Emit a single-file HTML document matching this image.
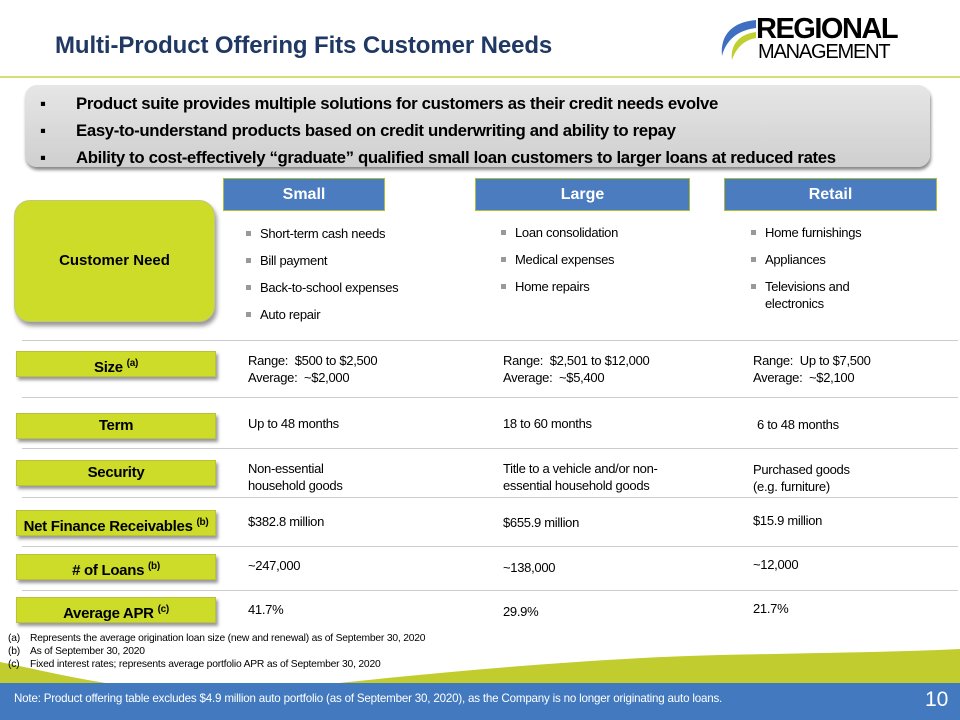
<!DOCTYPE html>
<html><head><meta charset="utf-8"><style>
body{margin:0;width:960px;height:720px;position:relative;overflow:hidden;background:#fff;font-family:"Liberation Sans",sans-serif;color:#000}
.a{position:absolute}
.t{font-size:13px;line-height:17px;letter-spacing:-0.3px}
.lbl{position:absolute;left:16px;width:198px;height:24px;background:#cddc29;border:1px solid #b9c23a;box-shadow:2px 3px 3px #999;font-weight:bold;font-size:15px;text-align:center;line-height:24px;letter-spacing:-0.3px}
.lbl sup{font-size:10px}
.hdr{position:absolute;top:178px;height:31px;background:#4a7cbf;border:1px solid #a9bf3a;color:#fff;font-weight:bold;font-size:16px;text-align:center;line-height:31px}
.hl{position:absolute;left:22px;width:936px;height:1px;background:#ccc}
ul{margin:0;padding:0;list-style:none}
li{position:relative;padding-left:16px;margin-bottom:10px}
li:before{content:"";position:absolute;left:2px;top:6px;width:5px;height:5px;background:#999}
</style></head><body>
<div class="a" style="left:55px;top:32px;font-size:24px;font-weight:bold;color:#1f3864;letter-spacing:-0.1px">Multi-Product Offering Fits Customer Needs</div>
<div class="a" style="left:718px;top:14px;width:200px;height:48px">
<svg width="40" height="46" class="a" style="left:0;top:2px"><path d="M38 4 C15 6 2 18 4 40 C8 24 20 14 38 12Z" fill="#3e6fc0"/><path d="M38 16 C22 18 12 28 14 44 C18 32 26 24 38 22Z" fill="#bfd030"/></svg>
<div class="a" style="left:38px;top:0;font-size:29px;font-weight:bold;letter-spacing:-1.5px;line-height:30px">REGIONAL</div>
<div class="a" style="left:40px;top:28px;font-size:20px;letter-spacing:-1.2px;line-height:20px">MANAGEMENT</div>
</div>
<div class="a" style="left:0;top:76px;width:960px;height:2px;background:#d4df7a"></div>
<div class="a" style="left:25px;top:85px;width:905px;height:82px;border-radius:12px;background:linear-gradient(#e6e6e6,#cfcfcf);box-shadow:1px 3px 3px #888"></div>
<div class="a" style="left:40px;top:90px;font-size:16.8px;font-weight:bold;line-height:27px;letter-spacing:-0.35px">
<div><span style="display:inline-block;width:36px">▪</span>Product suite provides multiple solutions for customers as their credit needs evolve</div>
<div><span style="display:inline-block;width:36px">▪</span>Easy-to-understand products based on credit underwriting and ability to repay</div>
<div><span style="display:inline-block;width:36px">▪</span>Ability to cost-effectively “graduate” qualified small loan customers to larger loans at reduced rates</div>
</div>
<div class="hdr" style="left:223px;width:160px">Small</div>
<div class="hdr" style="left:475px;width:213px">Large</div>
<div class="hdr" style="left:724px;width:211px">Retail</div>
<div class="a" style="left:14px;top:200px;width:199px;height:120px;background:#cddc29;border-radius:16px;border:1px solid #c0c87a;box-shadow:2px 4px 4px #999;font-weight:bold;font-size:15px;text-align:center;line-height:120px">Customer Need</div>
<div class="a t" style="left:244px;top:225px"><ul><li>Short-term cash needs</li><li>Bill payment</li><li>Back-to-school expenses</li><li>Auto repair</li></ul></div>
<div class="a t" style="left:499px;top:224px"><ul><li>Loan consolidation</li><li>Medical expenses</li><li>Home repairs</li></ul></div>
<div class="a t" style="left:749px;top:224px"><ul><li>Home furnishings</li><li>Appliances</li><li>Televisions and<br>electronics</li></ul></div>
<div class="hl" style="top:340px"></div><div class="hl" style="top:397px"></div><div class="hl" style="top:448px"></div><div class="hl" style="top:497px"></div><div class="hl" style="top:546px"></div><div class="hl" style="top:590px"></div>
<div class="lbl" style="top:351px">Size <sup>(a)</sup></div>
<div class="lbl" style="top:413px">Term</div>
<div class="lbl" style="top:460px">Security</div>
<div class="lbl" style="top:510px">Net Finance Receivables <sup>(b)</sup></div>
<div class="lbl" style="top:554px"># of Loans <sup>(b)</sup></div>
<div class="lbl" style="top:597px">Average APR <sup>(c)</sup></div>
<div class="a t" style="left:248px;top:352px">Range:&nbsp; $500 to $2,500<br>Average:&nbsp; ~$2,000</div>
<div class="a t" style="left:503px;top:352px">Range:&nbsp; $2,501 to $12,000<br>Average:&nbsp; ~$5,400</div>
<div class="a t" style="left:753px;top:352px">Range:&nbsp; Up to $7,500<br>Average:&nbsp; ~$2,100</div>
<div class="a t" style="left:248px;top:415px">Up to 48 months</div>
<div class="a t" style="left:503px;top:415px">18 to 60 months</div>
<div class="a t" style="left:757px;top:416px">6 to 48 months</div>
<div class="a t" style="left:248px;top:460px">Non-essential<br>household goods</div>
<div class="a t" style="left:503px;top:460px">Title to a vehicle and/or non-<br>essential household goods</div>
<div class="a t" style="left:753px;top:461px">Purchased goods<br>(e.g. furniture)</div>
<div class="a t" style="left:248px;top:513px">$382.8 million</div>
<div class="a t" style="left:503px;top:514px">$655.9 million</div>
<div class="a t" style="left:753px;top:512px">$15.9 million</div>
<div class="a t" style="left:248px;top:557px">~247,000</div>
<div class="a t" style="left:503px;top:559px">~138,000</div>
<div class="a t" style="left:753px;top:556px">~12,000</div>
<div class="a t" style="left:248px;top:601px">41.7%</div>
<div class="a t" style="left:503px;top:603px">29.9%</div>
<div class="a t" style="left:753px;top:600px">21.7%</div>
<svg class="a" style="left:0;top:640px" width="960" height="50"><path d="M0 22 C40 30 80 40 120 45 L320 45 C460 30 600 18 720 15 C820 13 900 12 960 9 L960 50 L0 50Z" fill="#c1cc2e"/></svg>
<div class="a" style="left:8px;top:632px;font-size:10.3px;line-height:13px;letter-spacing:-0.2px">
<div><span style="display:inline-block;width:22px">(a)</span>Represents the average origination loan size (new and renewal) as of September 30, 2020</div>
<div><span style="display:inline-block;width:22px">(b)</span>As of September 30, 2020</div>
<div><span style="display:inline-block;width:22px">(c)</span>Fixed interest rates; represents average portfolio APR as of September 30, 2020</div>
</div>
<div class="a" style="left:0;top:683px;width:960px;height:37px;background:#4279bf"></div>
<div class="a" style="left:14px;top:692px;font-size:11.6px;color:#fff;letter-spacing:-0.2px">Note: Product offering table excludes $4.9 million auto portfolio (as of September 30, 2020), as the Company is no longer originating auto loans.</div>
<div class="a" style="left:925px;top:688px;font-size:21px;color:#fff">10</div>
</body></html>
